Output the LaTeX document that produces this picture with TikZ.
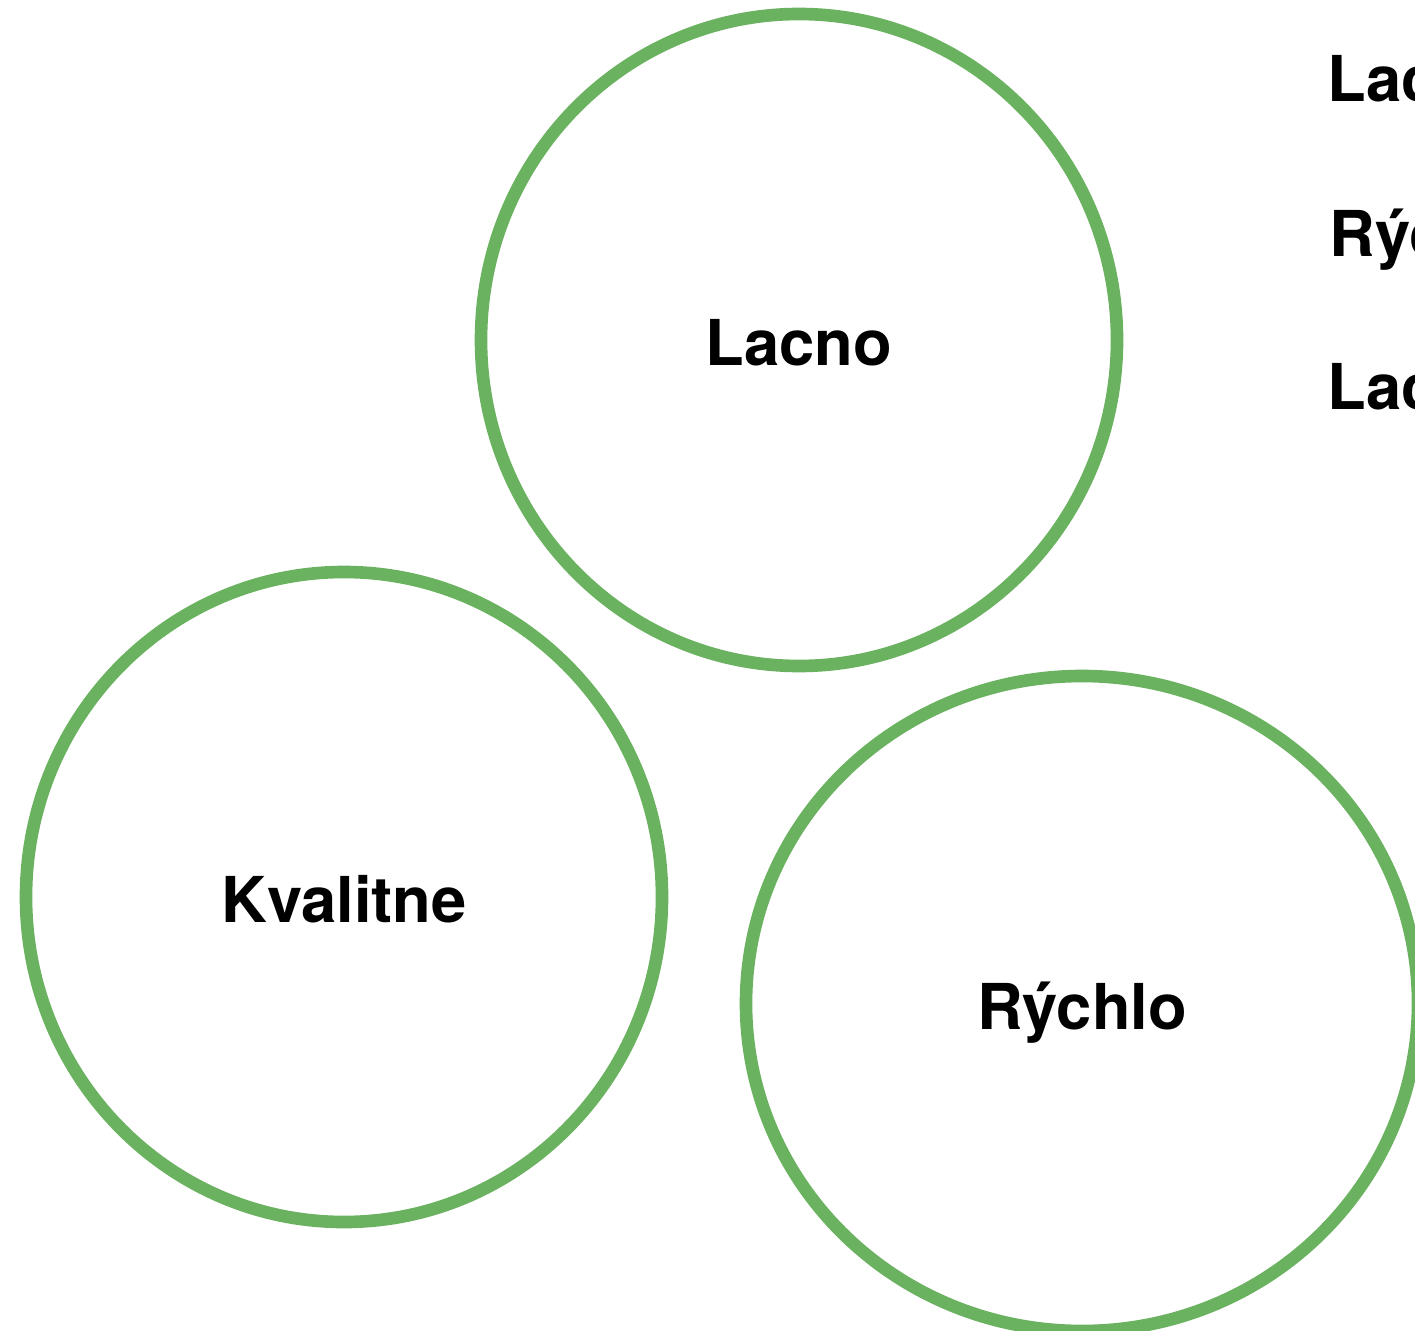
\documentclass[tikz,border=0pt]{standalone}
\usepackage{fontspec}
\setmainfont{TeX Gyre Heros}
\usetikzlibrary{shapes.geometric}
\definecolor{wishgreen}{RGB}{106,178,96}
\tikzset{
  wish/.style={ellipse, draw=wishgreen, line width=3.6pt, inner sep=0pt,
    text height=0.70cm, text depth=0.188cm,
    font=\fontsize{18}{22}\selectfont\bfseries},
  combo/.style={anchor=base west, inner sep=0pt,
    font=\fontsize{18}{22}\selectfont\bfseries}
}
\begin{document}
\begin{tikzpicture}
\path[use as bounding box, clip] (0,0) rectangle (14.15,13.30);
% the three wishes
\node[wish, minimum width=6.36cm, minimum height=6.52cm] (lacno) at (7.99,9.90) {Lacno};
\node[wish, minimum width=6.36cm, minimum height=6.50cm] (kvalitne) at (3.44,4.33) {Kvalitne};
\node[wish, minimum width=6.72cm, minimum height=6.55cm] (rychlo) at (10.82,3.265) {Rýchlo};
% pairs, cut off at the right edge
\node[combo] (pairone) at (13.27,12.28) {Lacno};
\node[combo] (pairtwo) at (13.29,10.73) {Rýchlo};
\node[combo] (pairthree) at (13.27,9.20) {Lacno};
\end{tikzpicture}
\end{document}
